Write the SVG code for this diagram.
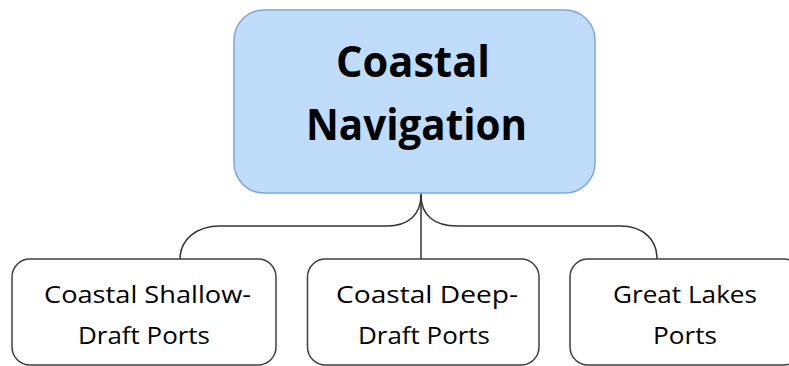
<svg xmlns="http://www.w3.org/2000/svg" width="789" height="366" viewBox="0 0 789 366">
<style>
.bg{fill:#ffffff}
.root{fill:#bfdcfb;stroke:#7ea6da;stroke-width:1.5}
.leaf{fill:#ffffff;stroke:#3f3f3f;stroke-width:1.5}
.conn{fill:none;stroke:#333333;stroke-width:1.5}
.t1{font-family:"Open Sans","Liberation Sans",sans-serif;font-weight:bold;font-size:43px;fill:#000000;text-anchor:middle}
.t2{font-family:"Open Sans","Liberation Sans",sans-serif;font-size:24.5px;fill:#000000;text-anchor:middle}
</style>
<rect class="bg" x="0" y="0" width="789" height="366"/>
<g id="connectors">
<path class="conn" d="M421,193 L421,259"/>
<path class="conn" d="M421,195 C421,215 408,226 387,226 L220,226 C196,226 180,240 180,259"/>
<path class="conn" d="M421,195 C421,215 434,226 457,226 L620,226 C644,226 657,240 657,259"/>
</g>
<g id="node-root">
<rect class="root" x="234" y="10" width="361" height="183" rx="30" ry="30"/>
<text class="t1" x="413" y="77" textLength="154" lengthAdjust="spacingAndGlyphs">Coastal</text>
<text class="t1" x="416.5" y="140" textLength="221" lengthAdjust="spacingAndGlyphs">Navigation</text>
</g>
<g id="node-shallow">
<rect class="leaf" x="12" y="259" width="264" height="106" rx="18" ry="18"/>
<text class="t2" x="147.5" y="303" textLength="207" lengthAdjust="spacingAndGlyphs">Coastal Shallow-</text>
<text class="t2" x="144" y="344" textLength="132" lengthAdjust="spacingAndGlyphs">Draft Ports</text>
</g>
<g id="node-deep">
<rect class="leaf" x="307.5" y="259" width="231.5" height="106" rx="18" ry="18"/>
<text class="t2" x="427" y="303" textLength="182" lengthAdjust="spacingAndGlyphs">Coastal Deep-</text>
<text class="t2" x="424" y="344" textLength="132" lengthAdjust="spacingAndGlyphs">Draft Ports</text>
</g>
<g id="node-lakes">
<rect class="leaf" x="570" y="259" width="232" height="106" rx="18" ry="18"/>
<text class="t2" x="685" y="303" textLength="144" lengthAdjust="spacingAndGlyphs">Great Lakes</text>
<text class="t2" x="685" y="344" textLength="64" lengthAdjust="spacingAndGlyphs">Ports</text>
</g>
</svg>
